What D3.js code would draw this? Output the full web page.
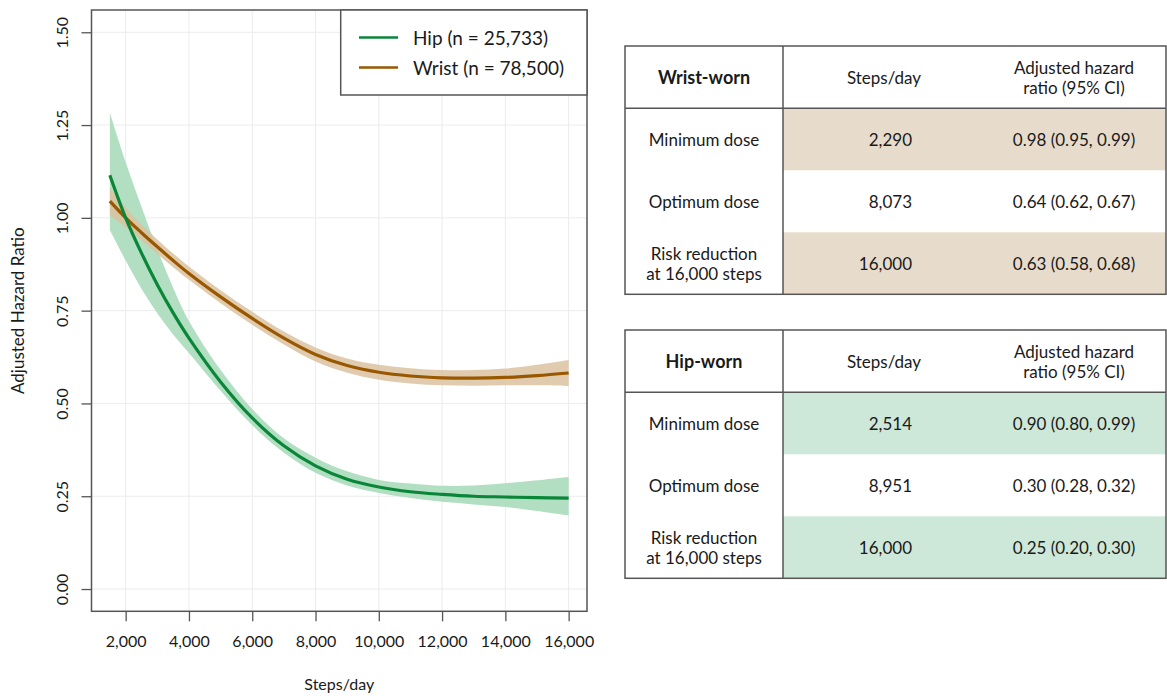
<!DOCTYPE html>
<html>
<head>
<meta charset="utf-8">
<script src="https://cdn.jsdelivr.net/npm/d3@7/dist/d3.min.js"></script>
<style>
  html, body { margin: 0; padding: 0; background: #fff; }
  svg { display: block; font-family: Lato, "Open Sans", sans-serif; }
</style>
</head>
<body>
<svg id="chart" width="1167" height="696"></svg>
<script>
// Steps/day grid at which the fitted curves are evaluated
const steps = [1500, 2000, 2500, 3000, 3500, 4000, 5000, 6000, 7000, 8000, 9000, 10000, 11000, 12000, 13000, 14000, 15000, 16000];

// Hip-worn device: adjusted hazard ratio with 95% CI
const hipHR    = [1.115, 1.000, 0.905, 0.820, 0.744, 0.676, 0.558, 0.461, 0.386, 0.332, 0.296, 0.275, 0.262, 0.255, 0.250, 0.248, 0.246, 0.245];
const hipLower = [0.967, 0.885, 0.809, 0.743, 0.686, 0.636, 0.534, 0.441, 0.367, 0.313, 0.279, 0.259, 0.245, 0.235, 0.228, 0.221, 0.210, 0.198];
const hipUpper = [1.283, 1.150, 1.030, 0.915, 0.812, 0.722, 0.590, 0.485, 0.406, 0.354, 0.317, 0.294, 0.284, 0.278, 0.279, 0.285, 0.293, 0.302];

// Wrist-worn device: adjusted hazard ratio with 95% CI
const wristHR    = [1.045, 1.000, 0.960, 0.922, 0.885, 0.850, 0.787, 0.729, 0.676, 0.632, 0.602, 0.584, 0.574, 0.569, 0.568, 0.570, 0.575, 0.582];
const wristLower = [1.008, 0.975, 0.940, 0.903, 0.867, 0.833, 0.770, 0.712, 0.659, 0.613, 0.583, 0.564, 0.554, 0.549, 0.548, 0.549, 0.549, 0.547];
const wristUpper = [1.080, 1.028, 0.982, 0.942, 0.904, 0.869, 0.805, 0.747, 0.694, 0.651, 0.621, 0.604, 0.595, 0.590, 0.590, 0.594, 0.604, 0.617];

// Axis ticks and legend
const xTicks = [2000, 4000, 6000, 8000, 10000, 12000, 14000, 16000];
const yTicks = [0, 0.25, 0.5, 0.75, 1.0, 1.25, 1.5];
const legendLabels = ["Hip (n = 25,733)", "Wrist (n = 78,500)"];

// Summary tables
const rowLabels = [["Minimum dose"], ["Optimum dose"], ["Risk reduction", "at 16,000 steps"]];
const headerCols = [["Steps/day"], ["Adjusted hazard", "ratio (95% CI)"]];
const wristTitle = "Wrist-worn";
const wristSteps = ["2,290", "8,073", "16,000"];
const wristCI = ["0.98 (0.95, 0.99)", "0.64 (0.62, 0.67)", "0.63 (0.58, 0.68)"];
const hipTitle = "Hip-worn";
const hipSteps = ["2,514", "8,951", "16,000"];
const hipCI = ["0.90 (0.80, 0.99)", "0.30 (0.28, 0.32)", "0.25 (0.20, 0.30)"];

const colors = {
  hipLine: "#0a8638", hipBand: "#aedcbf",
  wristLine: "#995700", wristBand: "#dac2a0",
  hipFill: "#cde8d8", wristFill: "#e7dccc",
  text: "#1a1a1a", axis: "#555", grid: "#ececec"
};

const svg = d3.select("#chart");

// ---------- Plot ----------
const plot = { left: 91.5, right: 587, top: 10, bottom: 611.3 };
const x = d3.scaleLinear().domain([920, 16580]).range([plot.left, plot.right]);
const y = d3.scaleLinear().domain([-0.06, 1.56]).range([plot.bottom, plot.top]);

// grid
const grid = svg.append("g");
grid.selectAll("line.gx").data(xTicks).join("line")
  .attr("x1", d => x(d)).attr("x2", d => x(d))
  .attr("y1", plot.top).attr("y2", plot.bottom)
  .attr("stroke", colors.grid).attr("stroke-width", 1);
grid.selectAll("line.gy").data(yTicks).join("line")
  .attr("y1", d => y(d)).attr("y2", d => y(d))
  .attr("x1", plot.left).attr("x2", plot.right)
  .attr("stroke", colors.grid).attr("stroke-width", 1);

function series(hr, lo, hi) {
  return steps.map((s, i) => ({ s, hr: hr[i], lo: lo[i], hi: hi[i] }));
}
const hipData = series(hipHR, hipLower, hipUpper);
const wristData = series(wristHR, wristLower, wristUpper);

const smooth = d3.curveCatmullRom.alpha(0.5);
const band = d3.area().x(d => x(d.s)).y0(d => y(d.lo)).y1(d => y(d.hi)).curve(smooth);
const line = d3.line().x(d => x(d.s)).y(d => y(d.hr)).curve(smooth);

svg.append("path").datum(hipData).attr("d", band).attr("fill", colors.hipBand).attr("opacity", 0.95);
svg.append("path").datum(wristData).attr("d", band).attr("fill", colors.wristBand).attr("opacity", 0.85);
svg.append("path").datum(wristData).attr("d", line).attr("fill", "none")
  .attr("stroke", colors.wristLine).attr("stroke-width", 3.2);
svg.append("path").datum(hipData).attr("d", line).attr("fill", "none")
  .attr("stroke", colors.hipLine).attr("stroke-width", 3.2);

// axes
const xAxis = d3.axisBottom(x).tickValues(xTicks).tickSize(10).tickPadding(14)
  .tickFormat(d3.format(","));
const yAxis = d3.axisLeft(y).tickValues(yTicks).tickSize(10).tickPadding(0)
  .tickFormat(d3.format(".2f"));

const gx = svg.append("g").attr("transform", `translate(0,${plot.bottom})`).call(xAxis);
gx.select(".domain").remove();
gx.selectAll(".tick line").attr("stroke", colors.axis).attr("stroke-width", 1.3);
gx.selectAll(".tick text").attr("font-size", 16).attr("fill", colors.text)
  .attr("font-family", "Lato, sans-serif");

const gy = svg.append("g").attr("transform", `translate(${plot.left},0)`).call(yAxis);
gy.select(".domain").remove();
gy.selectAll(".tick line").attr("stroke", colors.axis).attr("stroke-width", 1.3);
gy.selectAll(".tick text")
  .attr("font-size", 16).attr("fill", colors.text).attr("font-family", "Lato, sans-serif")
  .attr("x", null).attr("dy", null)
  .attr("text-anchor", "middle")
  .attr("transform", "translate(-30,0) rotate(-90)")
  .attr("dominant-baseline", "central");

// plot frame
svg.append("rect")
  .attr("x", plot.left).attr("y", plot.top)
  .attr("width", plot.right - plot.left).attr("height", plot.bottom - plot.top)
  .attr("fill", "none").attr("stroke", colors.axis).attr("stroke-width", 1.5);

// axis titles
svg.append("text").attr("x", (plot.left + plot.right) / 2).attr("y", 690)
  .attr("text-anchor", "middle").attr("font-size", 16).attr("fill", colors.text)
  .text("Steps/day");
svg.append("text")
  .attr("transform", `translate(24,${(plot.top + plot.bottom) / 2}) rotate(-90)`)
  .attr("text-anchor", "middle").attr("font-size", 17).attr("fill", colors.text)
  .text("Adjusted Hazard Ratio");

// legend
const lg = svg.append("g");
lg.append("rect").attr("x", 340.7).attr("y", plot.top)
  .attr("width", plot.right - 340.7).attr("height", 85)
  .attr("fill", "#fff").attr("stroke", colors.axis).attr("stroke-width", 1.5);
const legendColors = [colors.hipLine, colors.wristLine];
legendLabels.forEach((lab, i) => {
  const ly = 37.5 + i * 30;
  lg.append("line").attr("x1", 359).attr("x2", 398).attr("y1", ly).attr("y2", ly)
    .attr("stroke", legendColors[i]).attr("stroke-width", 2.5);
  lg.append("text").attr("x", 413).attr("y", ly).attr("dominant-baseline", "central")
    .attr("font-size", 19).attr("fill", colors.text).text(lab);
});

// ---------- Tables ----------
function drawTable(top, title, stepVals, ciVals, fill) {
  const left = 625, right = 1166, col1 = 783;
  const headerH = 62.3, rowH = 62;
  const c2 = 912, c3 = 1074;
  const g = svg.append("g");
  const rowsY = [0, 1, 2].map(i => top + headerH + i * rowH);
  // shaded rows (1st and 3rd)
  g.selectAll("rect.fill").data([0, 2]).join("rect")
    .attr("x", col1).attr("y", i => rowsY[i]).attr("width", right - col1).attr("height", rowH)
    .attr("fill", fill);
  const bottom = top + headerH + 3 * rowH;
  g.append("rect").attr("x", left).attr("y", top).attr("width", right - left).attr("height", bottom - top)
    .attr("fill", "none").attr("stroke", colors.axis).attr("stroke-width", 1.5);
  g.append("line").attr("x1", left).attr("x2", right).attr("y1", top + headerH).attr("y2", top + headerH)
    .attr("stroke", colors.axis).attr("stroke-width", 1.5);
  g.append("line").attr("x1", col1).attr("x2", col1).attr("y1", top).attr("y2", bottom)
    .attr("stroke", colors.axis).attr("stroke-width", 1.5);

  const mid = (left + col1) / 2;
  function multiline(xPos, yCenter, lines, opts) {
    const lh = 20;
    const t = g.append("text").attr("x", xPos).attr("text-anchor", opts.anchor || "middle")
      .attr("font-size", opts.bold ? 18 : 17).attr("fill", colors.text)
      .attr("font-weight", opts.bold ? 700 : 400);
    lines.forEach((ln, k) => {
      t.append("tspan").attr("x", xPos)
        .attr("y", yCenter + (k - (lines.length - 1) / 2) * lh)
        .attr("dominant-baseline", "central").text(ln);
    });
  }
  const hy = top + headerH / 2;
  multiline(mid, hy, [title], { bold: true });
  multiline(884, hy, headerCols[0], {});
  multiline(c3, hy, headerCols[1], {});
  rowLabels.forEach((lab, i) => {
    const cy = rowsY[i] + rowH / 2;
    multiline(mid, cy, lab, {});
    multiline(c2, cy, [stepVals[i]], { anchor: "end" });
    multiline(c3, cy, [ciVals[i]], {});
  });
}
drawTable(46, wristTitle, wristSteps, wristCI, colors.wristFill);
drawTable(330, hipTitle, hipSteps, hipCI, colors.hipFill);
</script>
</body>
</html>
